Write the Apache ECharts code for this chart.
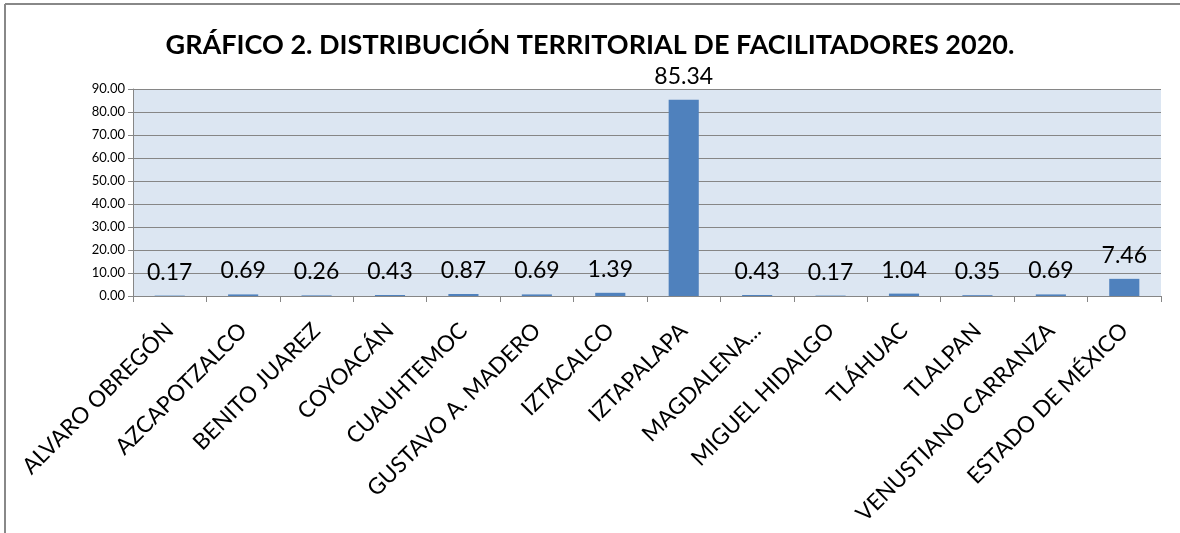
<!DOCTYPE html>
<html>
<head>
<meta charset="utf-8">
<script src="https://cdn.jsdelivr.net/npm/echarts@6/dist/echarts.min.js"></script>
<style>
html, body { margin: 0; padding: 0; background: #fff; }
#chart { width: 1180px; height: 533px; }
</style>
</head>
<body>
<div id="chart"></div>
<script>
// categorias y porcentajes
var delegaciones = ['ALVARO OBREGÓN', 'AZCAPOTZALCO', 'BENITO JUAREZ', 'COYOACÁN', 'CUAUHTEMOC',
	'GUSTAVO A. MADERO', 'IZTACALCO', 'IZTAPALAPA', 'MAGDALENA...', 'MIGUEL HIDALGO',
	'TLÁHUAC', 'TLALPAN', 'VENUSTIANO CARRANZA', 'ESTADO DE MÉXICO'];
var porcentajes = [0.17, 0.69, 0.26, 0.43, 0.87, 0.69, 1.39, 85.34, 0.43, 0.17, 1.04, 0.35, 0.69, 7.46];
var titulo = 'GRÁFICO 2. DISTRIBUCIÓN TERRITORIAL DE FACILITADORES 2020.';

var chart = echarts.init(document.getElementById('chart'));
var option = {
	animation: false,
	textStyle: { fontFamily: 'Lato' },
	title: {
		text: titulo,
		left: 'center',
		top: 27,
		textStyle: { fontFamily: 'Lato', fontWeight: 'bold', fontSize: 27, color: '#000' }
	},
	graphic: [
		{ type: 'line', shape: { x1: 5, y1: 4, x2: 1180, y2: 4 }, style: { stroke: '#888', lineWidth: 2 } },
		{ type: 'line', shape: { x1: 5, y1: 4, x2: 5, y2: 533 }, style: { stroke: '#888', lineWidth: 2 } }
	],
	grid: {
		left: 133,
		right: 19,
		top: 89,
		bottom: 237,
		outerBoundsMode: 'none',
		show: true,
		backgroundColor: '#dce6f2',
		borderWidth: 0
	},
	xAxis: {
		type: 'category',
		data: delegaciones,
		axisLine: { lineStyle: { color: '#868686', width: 1 } },
		axisTick: { show: true, length: 6, lineStyle: { color: '#868686' } },
		axisLabel: { rotate: 45, fontSize: 22.5, color: '#000', margin: 31, interval: 0 }
	},
	yAxis: {
		type: 'value',
		min: 0,
		max: 90,
		interval: 10,
		axisLine: { show: true, lineStyle: { color: '#868686' } },
		axisTick: { show: true, length: 5, lineStyle: { color: '#868686' } },
		splitLine: { lineStyle: { color: '#868686', width: 1 } },
		axisLabel: {
			fontSize: 13,
			color: '#000',
			margin: 8,
			formatter: function (v) { return v.toFixed(2); }
		}
	},
	series: [{
		type: 'bar',
		data: porcentajes,
		barWidth: '41%',
		itemStyle: { color: '#4f81bd' },
		label: {
			show: true,
			position: 'top',
			distance: 12,
			fontSize: 23,
			color: '#000',
			formatter: function (p) { return p.value.toFixed(2); }
		}
	}]
};
chart.setOption(option);
window.addEventListener('resize', chart.resize);
</script>
</body>
</html>
